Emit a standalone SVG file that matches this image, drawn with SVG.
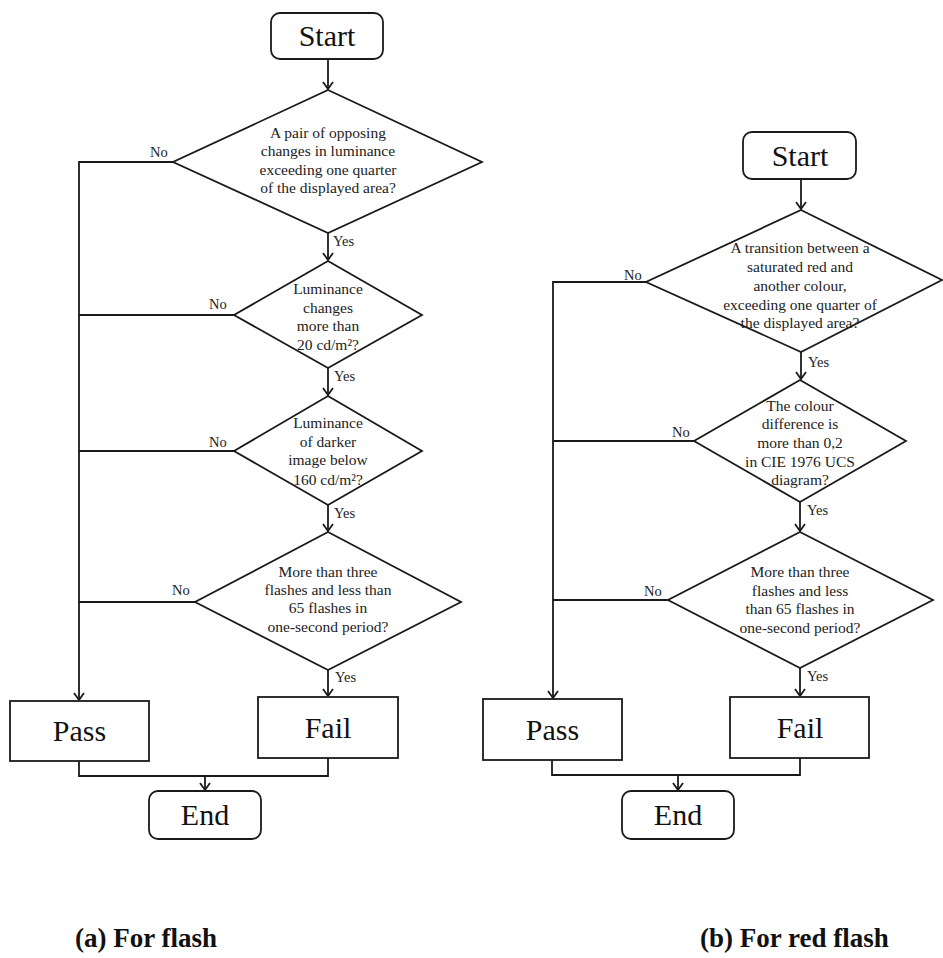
<svg xmlns="http://www.w3.org/2000/svg" width="943" height="958" viewBox="0 0 943 958">
<style>
.shape{fill:#fff;stroke:#1a1a1a;stroke-width:1.8}
.conn{fill:none;stroke:#1a1a1a;stroke-width:1.8}
.big{font-family:"Liberation Serif",serif;font-size:30px;fill:#111;text-anchor:middle}
.q{font-family:"Liberation Serif",serif;font-size:15.5px;fill:#222;text-anchor:middle}
.lbl{font-family:"Liberation Serif",serif;font-size:14.5px;fill:#222}
.cap{font-family:"Liberation Serif",serif;font-size:27px;font-weight:bold;fill:#111}
</style>
<defs>
<marker id="arr" markerUnits="userSpaceOnUse" markerWidth="12" markerHeight="14" viewBox="-9 -7 11 14" refX="0" refY="0" orient="auto">
<path d="M-7,-5 L0,0 L-7,5" fill="none" stroke="#1a1a1a" stroke-width="1.8"/>
</marker>
</defs>

<g id="connectors">
<line class="conn" x1="328" y1="59" x2="328" y2="89" marker-end="url(#arr)"/>
<line class="conn" x1="328" y1="233" x2="328" y2="260" marker-end="url(#arr)"/>
<line class="conn" x1="328" y1="368" x2="328" y2="395" marker-end="url(#arr)"/>
<line class="conn" x1="328" y1="505" x2="328" y2="531" marker-end="url(#arr)"/>
<line class="conn" x1="328" y1="670" x2="328" y2="696" marker-end="url(#arr)"/>
<polyline class="conn" points="173,162 79,162 79,700" marker-end="url(#arr)"/>
<line class="conn" x1="234" y1="315" x2="79" y2="315"/>
<line class="conn" x1="234" y1="451" x2="79" y2="451"/>
<line class="conn" x1="195" y1="602" x2="79" y2="602"/>
<polyline class="conn" points="79,761 79,776 328,776 328,758"/>
<line class="conn" x1="205" y1="776" x2="205" y2="790" marker-end="url(#arr)"/>
<line class="conn" x1="801" y1="179" x2="801" y2="209" marker-end="url(#arr)"/>
<line class="conn" x1="801" y1="352" x2="801" y2="379" marker-end="url(#arr)"/>
<line class="conn" x1="800" y1="502" x2="800" y2="531" marker-end="url(#arr)"/>
<line class="conn" x1="800" y1="668" x2="800" y2="696" marker-end="url(#arr)"/>
<polyline class="conn" points="646,282 553,282 553,698" marker-end="url(#arr)"/>
<line class="conn" x1="694" y1="441" x2="553" y2="441"/>
<line class="conn" x1="668" y1="600" x2="553" y2="600"/>
<polyline class="conn" points="552,760 552,775 800,775 800,758"/>
<line class="conn" x1="678" y1="775" x2="678" y2="790" marker-end="url(#arr)"/>
<text class="lbl" x="150" y="157">No</text>
<text class="lbl" x="333" y="246">Yes</text>
<text class="lbl" x="209" y="309">No</text>
<text class="lbl" x="334" y="381">Yes</text>
<text class="lbl" x="209" y="447">No</text>
<text class="lbl" x="334" y="518">Yes</text>
<text class="lbl" x="172" y="595">No</text>
<text class="lbl" x="335" y="682">Yes</text>
<text class="lbl" x="624" y="280">No</text>
<text class="lbl" x="808" y="367">Yes</text>
<text class="lbl" x="672" y="437">No</text>
<text class="lbl" x="807" y="515">Yes</text>
<text class="lbl" x="644" y="596">No</text>
<text class="lbl" x="807" y="681">Yes</text>
</g>

<g id="start-a">
<rect class="shape" x="271" y="13" width="112" height="46" rx="9"/>
<text class="big" x="327" y="46">Start</text>
</g>
<g id="q1-a">
<polygon class="shape" points="328,90 482,162 328,233 173,162"/>
<text class="q" x="328" y="138">A pair of opposing</text>
<text class="q" x="328" y="156">changes in luminance</text>
<text class="q" x="328" y="175">exceeding one quarter</text>
<text class="q" x="328" y="193">of the displayed area?</text>
</g>
<g id="q2-a">
<polygon class="shape" points="328,261 422,315 328,368 234,315"/>
<text class="q" x="328" y="294">Luminance</text>
<text class="q" x="328" y="313">changes</text>
<text class="q" x="328" y="331">more than</text>
<text class="q" x="328" y="350">20 cd/m²?</text>
</g>
<g id="q3-a">
<polygon class="shape" points="328,396 422,451 328,505 234,451"/>
<text class="q" x="328" y="428">Luminance</text>
<text class="q" x="328" y="447">of darker</text>
<text class="q" x="328" y="465">image below</text>
<text class="q" x="328" y="485">160 cd/m²?</text>
</g>
<g id="q4-a">
<polygon class="shape" points="328,532 461,602 328,670 195,602"/>
<text class="q" x="328" y="577">More than three</text>
<text class="q" x="328" y="595">flashes and less than</text>
<text class="q" x="328" y="613">65 flashes in</text>
<text class="q" x="328" y="632">one-second period?</text>
</g>
<g id="pass-a">
<rect class="shape" x="10" y="701" width="139" height="60"/>
<text class="big" x="79.5" y="741">Pass</text>
</g>
<g id="fail-a">
<rect class="shape" x="258" y="697" width="140" height="61"/>
<text class="big" x="328" y="738">Fail</text>
</g>
<g id="end-a">
<rect class="shape" x="149" y="791" width="112" height="48" rx="9"/>
<text class="big" x="205" y="825">End</text>
</g>

<g id="start-b">
<rect class="shape" x="743" y="132" width="113" height="47" rx="9"/>
<text class="big" x="800" y="166">Start</text>
</g>
<g id="q1-b">
<polygon class="shape" points="801,210 942,280 801,352 646,282"/>
<text class="q" x="800" y="253">A transition between a</text>
<text class="q" x="800" y="272">saturated red and</text>
<text class="q" x="800" y="291">another colour,</text>
<text class="q" x="800" y="310">exceeding one quarter of</text>
<text class="q" x="800" y="328">the displayed area?</text>
</g>
<g id="q2-b">
<polygon class="shape" points="800,380 906,441 800,502 694,441"/>
<text class="q" x="800" y="411">The colour</text>
<text class="q" x="800" y="429">difference is</text>
<text class="q" x="800" y="448">more than 0,2</text>
<text class="q" x="800" y="467">in CIE 1976 UCS</text>
<text class="q" x="800" y="485">diagram?</text>
</g>
<g id="q3-b">
<polygon class="shape" points="800,532 933,600 800,668 668,600"/>
<text class="q" x="800" y="577">More than three</text>
<text class="q" x="800" y="596">flashes and less</text>
<text class="q" x="800" y="614">than 65 flashes in</text>
<text class="q" x="800" y="633">one-second period?</text>
</g>
<g id="pass-b">
<rect class="shape" x="483" y="699" width="139" height="61"/>
<text class="big" x="552.5" y="740">Pass</text>
</g>
<g id="fail-b">
<rect class="shape" x="730" y="697" width="139" height="61"/>
<text class="big" x="800" y="738">Fail</text>
</g>
<g id="end-b">
<rect class="shape" x="622" y="791" width="112" height="48" rx="9"/>
<text class="big" x="678" y="825">End</text>
</g>

<text class="cap" x="75" y="947">(a) For flash</text>
<text class="cap" x="700" y="947">(b) For red flash</text>
</svg>
